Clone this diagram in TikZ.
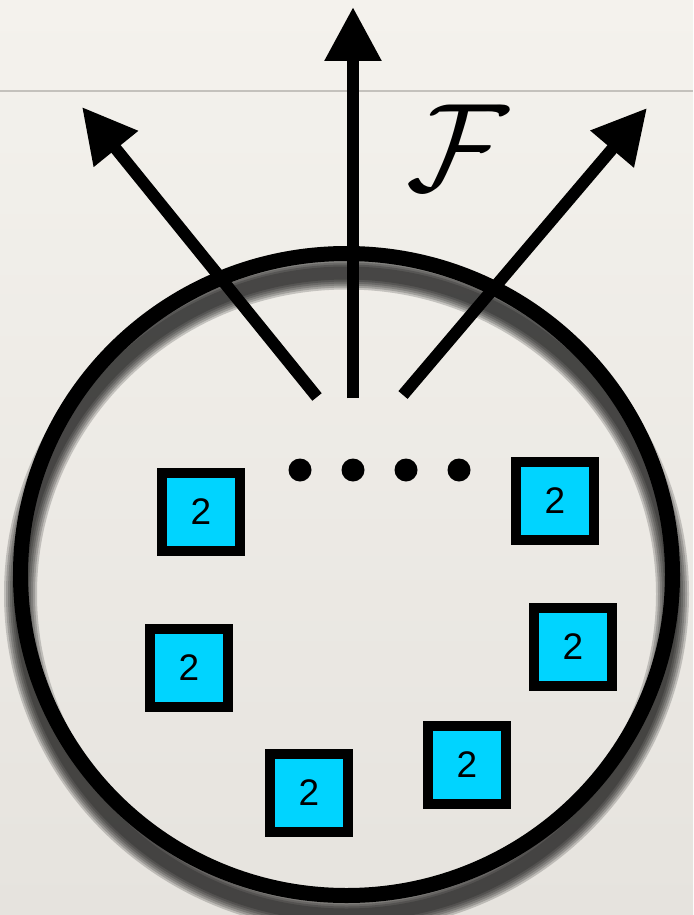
\documentclass[tikz,border=0pt]{standalone}
\usepackage{fontspec}
\setsansfont{Liberation Sans}
\usetikzlibrary{arrows.meta,shapes.geometric}

\definecolor{paper}{RGB}{244,242,237}
\definecolor{paperlow}{RGB}{230,227,222}
\definecolor{rulegray}{RGB}{196,193,188}
\definecolor{cellcyan}{RGB}{0,212,255}

\tikzset{
  cell/.style={draw=black, line width=10pt, fill=cellcyan, minimum size=78pt,
    inner sep=0pt, font=\sffamily\fontsize{37}{37}\selectfont},
  blob/.style={circle, fill=black, minimum size=23pt, inner sep=0pt},
  outarrow/.style={line width=12pt, -{Triangle[width=54pt,length=54pt]}},
  ring/.style={ellipse, draw=black, line width=15pt, minimum width=652pt,
    minimum height=642pt, inner sep=0pt},
}

\begin{document}
\begin{tikzpicture}[x=1pt,y=-1pt]
  \useasboundingbox (0,0) rectangle (693,915);
  % paper background and ruled line
  \shade[top color=paper, bottom color=paperlow] (0,0) rectangle (693,915);
  \draw[rulegray, line width=2pt] (0,91) -- (693,91);

  % soft shadow of the ring, cast downwards
  \foreach \w in {13,17,21,25,29,33}{
    \draw[black, opacity=0.18, line width=\w pt]
      (346.5,594) ellipse [x radius=326, y radius=321];
  }

  % the ring
  \node[ring] (ring) at (346.5,574.5) {};

  % cells inside the ring
  \node[cell] (c1) at (201,512) {2};
  \node[cell] (c2) at (555,501) {2};
  \node[cell] (c3) at (189,668) {2};
  \node[cell] (c4) at (573,647) {2};
  \node[cell] (c5) at (309,793) {2};
  \node[cell] (c6) at (467,765) {2};

  % ellipsis dots
  \node[blob] (d1) at (300,470) {};
  \node[blob] (d2) at (353,470) {};
  \node[blob] (d3) at (406,470) {};
  \node[blob] (d4) at (459,470) {};

  % outgoing arrows
  \coordinate (sl) at (317,397);
  \coordinate (sc) at (353,398);
  \coordinate (sr) at (403,395);
  \coordinate (tl) at (82,107);
  \coordinate (tc) at (353,7);
  \coordinate (tr) at (647,108);
  \draw[outarrow] (sl) -- (tl);
  \draw[outarrow] (sc) -- (tc);
  \draw[outarrow] (sr) -- (tr);

  % label
  \node[scale=12.5, inner sep=0pt] (F) at (458,148) {$\mathcal{F}$};
\end{tikzpicture}
\end{document}
